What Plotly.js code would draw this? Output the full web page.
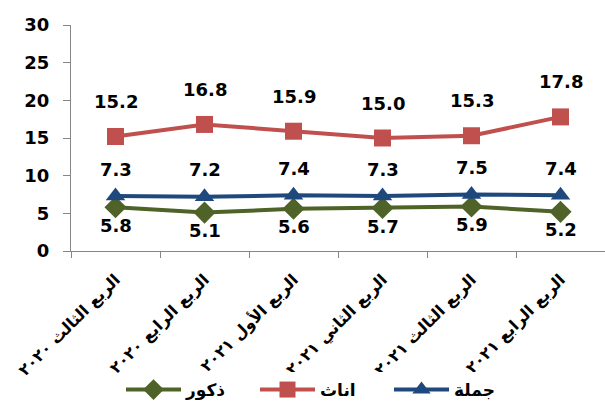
<!DOCTYPE html>
<html>
<head>
<meta charset="utf-8">
<script src="https://cdn.plot.ly/plotly-3.0.1.min.js"></script>
<style>html,body{margin:0;padding:0;background:#fff;}#chart{width:605px;height:408px;}</style>
</head>
<body>
<div id="chart"></div>
<script>
const categories = ["الربع الثالث ٢٠٢٠", "الربع الرابع ٢٠٢٠", "الربع الأول ٢٠٢١", "الربع الثاني ٢٠٢١", "الربع الثالث ٢٠٢١", "الربع الرابع ٢٠٢١"];
const males = [5.8, 5.1, 5.6, 5.7, 5.9, 5.2];
const females = [15.2, 16.8, 15.9, 15.0, 15.3, 17.8];
const total = [7.3, 7.2, 7.4, 7.3, 7.5, 7.4];
const seriesNames = ["ذكور", "اناث", "جملة"];
const yTicks = [0, 5, 10, 15, 20, 25, 30];

const numFont = {family: "DejaVu Sans", size: 18, color: "#000"};

const traces = [
  {x: categories, y: males, name: seriesNames[0], type: "scatter", mode: "lines+markers",
   line: {color: "#4F6228", width: 4}, marker: {symbol: "diamond", size: 17, color: "#4F6228"}},
  {x: categories, y: females, name: seriesNames[1], type: "scatter", mode: "lines+markers",
   line: {color: "#C0504D", width: 4}, marker: {symbol: "square", size: 17, color: "#C0504D"}},
  {x: categories, y: total, name: seriesNames[2], type: "scatter", mode: "lines+markers",
   line: {color: "#1F497D", width: 4}, marker: {symbol: "triangle-up", size: 17, color: "#1F497D"}}
];

const annotations = [];
function addLabels(vals, shift) {
  vals.forEach((v, i) => {
    annotations.push({x: categories[i], y: v, xref: "x", yref: "y", text: "<b>" + v.toFixed(1) + "</b>",
      showarrow: false, yshift: shift, font: numFont});
  });
}
addLabels(females, 35);
addLabels(total, 27);
addLabels(males, -18);

const layout = {
  width: 605, height: 408,
  margin: {l: 71, r: 0, t: 25, b: 157, autoexpand: false},
  paper_bgcolor: "#fff", plot_bgcolor: "#fff",
  showlegend: true,
  legend: {orientation: "h", x: 0.2, xanchor: "left", xref: "container", y: 0.0, yanchor: "bottom", yref: "container",
    font: {family: "DejaVu Sans", size: 17, color: "#000", weight: "bold"}, itemwidth: 55,
    entrywidth: 64, entrywidthmode: "pixels"},
  xaxis: {type: "category", range: [-0.5, 5.5], showline: true, linecolor: "#868686", linewidth: 1,
    ticks: "outside", tickson: "boundaries", ticklen: 6, tickcolor: "#868686", showgrid: false,
    zeroline: false, tickangle: -45, automargin: false, ticklabelstandoff: 12,
    tickfont: {family: "DejaVu Sans", size: 16, color: "#000", weight: "bold"}},
  yaxis: {range: [0, 30], tickvals: yTicks, showline: true, linecolor: "#868686", linewidth: 1,
    ticks: "outside", ticklen: 7, tickcolor: "#868686", showgrid: false, zeroline: false,
    automargin: false, ticklabelstandoff: 10,
    tickfont: {family: "DejaVu Sans", size: 18, color: "#000", weight: "bold"}},
  annotations: annotations
};

Plotly.newPlot("chart", traces, layout, {displayModeBar: false, staticPlot: true});
</script>
</body>
</html>
